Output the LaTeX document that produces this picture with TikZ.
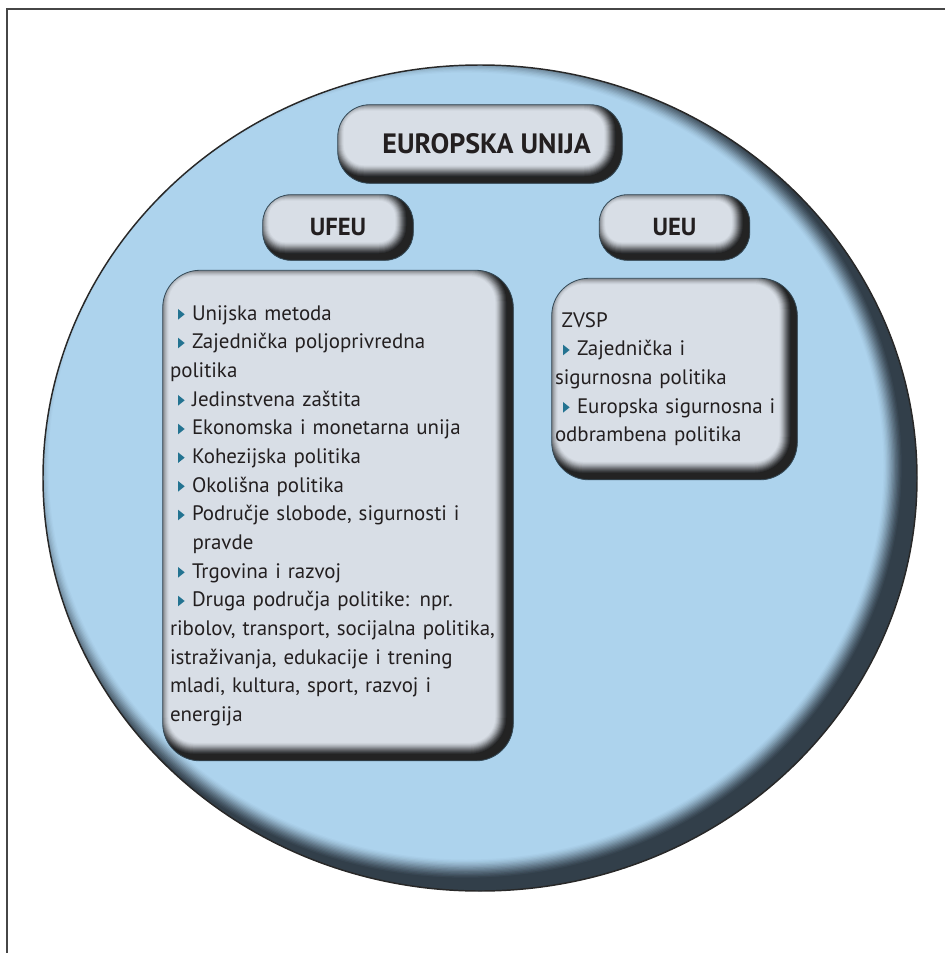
\documentclass[tikz,border=0pt]{standalone}
\usepackage{fontspec}
\setmainfont{PT Sans}
\usetikzlibrary{calc, positioning}
\pgfdeclarelayer{bg}
\pgfsetlayers{bg,main}

\definecolor{discblue}{RGB}{173,211,237}
\definecolor{discshadow}{RGB}{25,32,40}
\definecolor{discedge}{RGB}{40,40,40}
\definecolor{panelgray}{RGB}{216,222,230}
\definecolor{paneledge}{RGB}{52,74,88}
\definecolor{bulletc}{RGB}{35,115,145}
\definecolor{ink}{RGB}{35,31,32}
\definecolor{framec}{RGB}{70,70,70}

% small teal arrow bullet
\newcommand{\bul}{\tikz[baseline=0pt]\fill[bulletc] (0pt,0.3pt) -- (0pt,8.3pt) -- (5pt,4.3pt) -- cycle;}
\newcommand{\bline}{\hspace*{6pt}\bul\hspace{5.5pt}}

% shaded rounded panel behind a node: #1 node, #2 corner radius (pt)
\newcommand{\panelshade}[2]{%
  \fill[panelgray, rounded corners=#2pt] (#1.north west) rectangle (#1.south east);
  \begin{scope}
    \clip[rounded corners=#2pt] (#1.north west) rectangle (#1.south east);
    \foreach \k in {1,...,12}{
      \pgfmathsetmacro{\op}{0.25-0.018*\k}
      \pgfmathsetmacro{\rr}{#2-0.75*\k}
      \fill[black, opacity=\op, even odd rule]
        ($(#1.north west)+(-40,-40)$) rectangle ($(#1.south east)+(40,40)$)
        [rounded corners=\rr pt] ($(#1.north west)+(\k-6,\k-6)$) rectangle ($(#1.south east)+(-\k-6,-\k-6)$);
    }
  \end{scope}
  \draw[paneledge, line width=0.6pt, rounded corners=#2pt] (#1.north west) rectangle (#1.south east);
}

\begin{document}
\begin{tikzpicture}[x=0.75pt, y=-0.75pt,
  headbox/.style={text=ink, inner sep=0pt},
  listbox/.style={text=ink, align=left, inner ysep=0pt, font=\fontsize{15.7pt}{21.5pt}\selectfont}]
\useasboundingbox (0,0) rectangle (945,953);

% nodes %
\node[headbox, minimum width=213pt, minimum height=58.5pt, font=\fontsize{21pt}{23pt}\selectfont\bfseries] (eu) at (480,144) {\hspace*{10pt}EUROPSKA UNIJA};
\node[headbox, minimum width=112.5pt, minimum height=48.75pt, font=\fontsize{18.5pt}{20pt}\selectfont\bfseries] (ufeu) at (338,227.5) {UFEU};
\node[headbox, minimum width=112.5pt, minimum height=48.75pt, font=\fontsize{18.5pt}{20pt}\selectfont\bfseries] (ueu) at (674.5,227.5) {UEU};

\node[listbox, below=7.5pt of ufeu, text width=252pt, inner xsep=5.25pt, minimum height=367.5pt] (ufeulist) {%
\bline Unijska metoda\\
\bline Zajednička poljoprivredna\\
politika\\
\bline Jedinstvena zaštita\\
\bline Ekonomska i monetarna unija\\
\bline Kohezijska politika\\
\bline Okolišna politika\\
\bline Područje slobode, sigurnosti i\\
\hspace*{17pt}pravde\\
\bline Trgovina i razvoj\\
\bline Druga područja politike: npr.\\
ribolov, transport, socijalna politika,\\
istraživanja, edukacije i trening\\
mladi, kultura, sport, razvoj i\\
energija};
\node[listbox, below=13.5pt of ueu, text width=179.25pt, inner xsep=2.25pt, minimum height=150.75pt] (ueulist) {%
\hspace*{5pt}ZVSP\\
\bline Zajednička i\\
sigurnosna politika\\
\bline Europska sigurnosna i\\
odbrambena politika};

% disc and panels %
\begin{pgfonlayer}{bg}
  \draw[framec, line width=1.1pt] (7,9) rectangle (960,970);
  \fill[discblue] (480,478) ellipse [x radius=437, y radius=413];
  \begin{scope}
    \clip (480,478) ellipse [x radius=437, y radius=413];
    \foreach \k in {1,...,15}{
      \pgfmathsetmacro{\op}{0.19-0.011*\k}
      \pgfmathsetmacro{\rx}{437-1.3*\k}
      \pgfmathsetmacro{\ry}{413-1.3*\k}
      \fill[discshadow, opacity=\op, even odd rule] (0,0) rectangle (945,953)
        (466,466) ellipse [x radius=\rx, y radius=\ry];
    }
  \end{scope}
  \draw[discedge, line width=1.1pt] (480,478) ellipse [x radius=437, y radius=413];
  \panelshade{eu}{24}
  \panelshade{ufeu}{21}
  \panelshade{ueu}{21}
  \panelshade{ufeulist}{28}
  \panelshade{ueulist}{28}
\end{pgfonlayer}
\end{tikzpicture}
\end{document}
